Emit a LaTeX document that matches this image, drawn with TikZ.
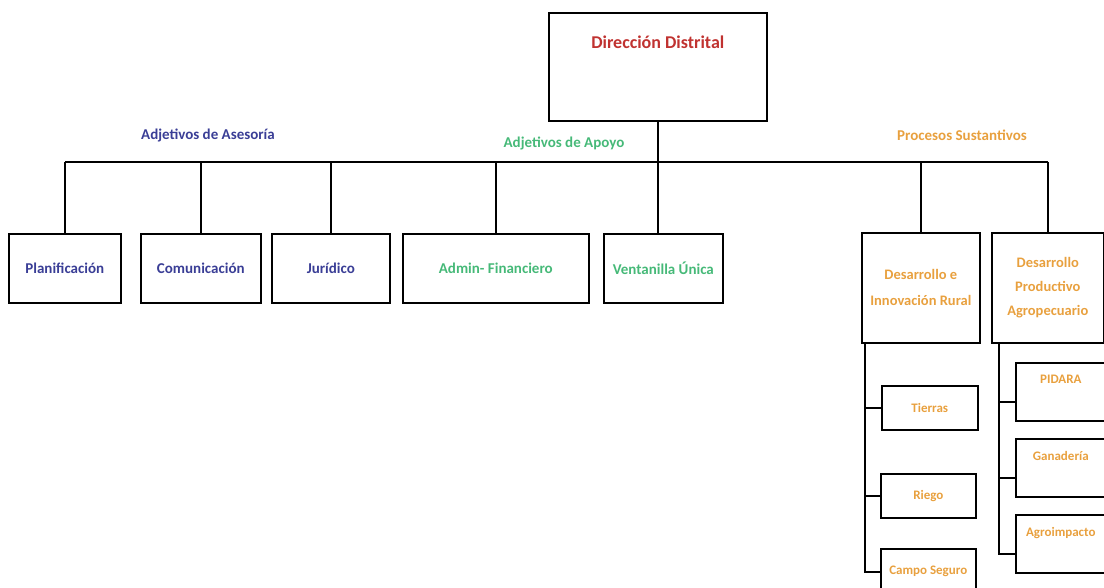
\documentclass[tikz,border=0pt]{standalone}
\usepackage{fontspec}
\setmainfont{Carlito}
\definecolor{dirred}{RGB}{192,50,48}
\definecolor{aseblue}{RGB}{58,62,150}
\definecolor{apogreen}{RGB}{70,185,120}
\definecolor{susorange}{RGB}{232,160,62}
\tikzset{
        unit/.style 2 args={draw=black, line width=1.6pt, anchor=north west, inner sep=2pt, align=center,
                minimum width=#1pt, minimum height=#2pt, font=\bfseries\fontsize{15}{24}\selectfont},
        small/.style={font=\bfseries\fontsize{13}{16}\selectfont},
        head/.style={font=\bfseries\fontsize{15}{18}\selectfont},
        toptext/.style={label={[anchor=north, yshift=-10pt, small, text=susorange]north:#1}},
        link/.style={line width=2pt}
}
\begin{document}
\begin{tikzpicture}[x=1pt,y=-1pt]
        \path[use as bounding box, clip] (0,0) rectangle (1104,588);
        \node[unit={218}{108}, label={[anchor=north, yshift=-20pt, text=dirred, font=\bfseries\fontsize{18}{22}\selectfont]north:Dirección Distrital}] (dir) at (548,12) {};
        \node[head, text=aseblue] (ase) at (208,135) {Adjetivos de Asesoría};
        \node[head, text=apogreen] (apo) at (564,143) {Adjetivos de Apoyo};
        \node[head, text=susorange] (sus) at (962,135) {Procesos Sustantivos};
        \node[unit={112}{69}, text=aseblue] (plan) at (8,233) {Planificación};
        \node[unit={120}{69}, text=aseblue] (com) at (140,233) {Comunicación};
        \node[unit={118}{69}, text=aseblue] (jur) at (271,233) {Jurídico};
        \node[unit={186}{69}, text=apogreen] (adm) at (402,233) {Admin- Financiero};
        \node[unit={119}{69}, text=apogreen] (ven) at (603,233) {Ventanilla Única};
        \node[unit={118}{110}, text=susorange, font=\bfseries\fontsize{14.5}{26}\selectfont] (dri) at (861,232) {Desarrollo e\\Innovación Rural};
        \node[unit={112}{110}, text=susorange, font=\bfseries\fontsize{14.5}{24}\selectfont] (dpa) at (991,232) {Desarrollo\\Productivo\\Agropecuario};
        \node[unit={96}{44}, small, text=susorange] (tie) at (881,385) {Tierras};
        \node[unit={95}{44}, small, text=susorange] (rie) at (880,473) {Riego};
        \node[unit={95}{46}, small, text=susorange] (cam) at (880,548) {Campo Seguro};
        \node[unit={90}{58}, toptext=PIDARA] (pid) at (1015,362) {};
        \node[unit={90}{58}, toptext=Ganadería] (gan) at (1015,438) {};
        \node[unit={90}{58}, toptext=Agroimpacto] (agr) at (1015,514) {};
        \coordinate (bus) at (0,162);
        \coordinate (dril) at ([xshift=4pt]dri.south west);
        \coordinate (dpal) at ([xshift=8pt]dpa.south west);
        \draw[link] (plan.north |- bus) -- (dpa.north |- bus);
        \draw[link] (dir.south) -- (dir.south |- ven.north);
        \foreach \n in {plan,com,jur,adm,dri,dpa}
                \draw[link] (\n.north |- bus) -- (\n.north);
        \foreach \n in {tie,rie,cam}
                \draw[link] (dril) |- (\n.west);
        \foreach \n in {pid,gan,agr}
                \draw[link] (dpal) |- ([yshift=-10pt]\n.west);
\end{tikzpicture}
\end{document}
